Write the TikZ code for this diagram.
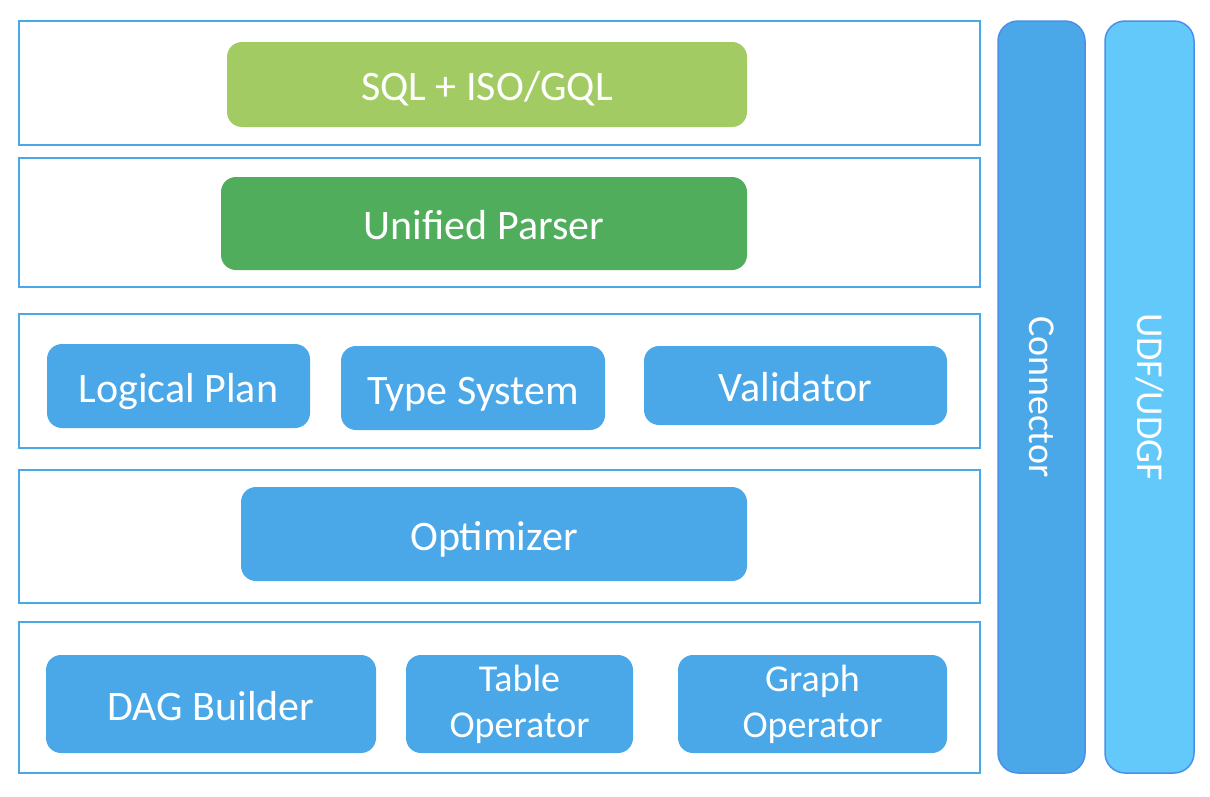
\documentclass[tikz,border=0pt]{standalone}
\usepackage{fontspec}
\setmainfont{Carlito}
\usetikzlibrary{positioning}

\definecolor{sqlgreen}{HTML}{A2CC63}
\definecolor{parsegreen}{HTML}{4FAD5B}
\definecolor{modblue}{HTML}{4AA8E8}
\definecolor{udfblue}{HTML}{63C9FB}
\definecolor{colline}{HTML}{4A8FEA}

\begin{document}
\begin{tikzpicture}[x=1pt, y=-1pt,
    every node/.style={font=\fontsize{42}{46}\selectfont, text=white, inner sep=0pt},
    layer/.style={draw=modblue, line width=2pt, minimum width=961pt},
    module/.style={rounded corners=15pt, fill=modblue, align=center},
    oneline/.style={text height=32pt, text depth=0pt},
    small/.style={font=\fontsize{38}{46}\selectfont},
    column/.style={draw=colline, line width=1.5pt, rounded corners=20pt, rotate=-90,
                   minimum width=752pt, small}]
    \useasboundingbox (0,0) rectangle (1210,796);
    % layers
    \node[layer, minimum height=124pt] (lang) at (499.5,83) {};
    \node[layer, minimum height=129pt] (parse) at (499.5,222.5) {};
    \node[layer, minimum height=134pt] (plan) at (499.5,381) {};
    \node[layer, minimum height=133pt] (opt) at (499.5,536.5) {};
    \node[layer, minimum height=151pt] (exec) at (499.5,697.5) {};
    % modules
    \node[module, oneline, fill=sqlgreen, minimum width=520pt, minimum height=85pt] (sql) at (487,84.5) {SQL + ISO/GQL};
    \node[module, oneline, fill=parsegreen, minimum width=526pt, minimum height=93pt] (parser) at (484,223.5) {Unified Parser};
    \node[module, oneline, minimum width=263pt, minimum height=84pt] (logical) at (178.5,386) {Logical Plan};
    \node[module, oneline, minimum width=264pt, minimum height=84pt] (types) at (473,388) {Type System};
    \node[module, oneline, minimum width=303pt, minimum height=79pt] (valid) at (795.5,385.5) {Validator};
    \node[module, oneline, minimum width=506pt, minimum height=94pt] (optimizer) at (494,534) {Optimizer};
    \node[module, oneline, minimum width=330pt, minimum height=98pt] (dag) at (211,704) {DAG Builder};
    \node[module, small, minimum width=227pt, minimum height=98pt] (tableop) at (519.5,704) {Table\\Operator};
    \node[module, small, minimum width=269pt, minimum height=98pt] (graphop) at (812.5,704) {Graph\\Operator};
    % side columns
    \node[column, fill=modblue, minimum height=87pt] (conn) at (1041.5,397) {Connector};
    \node[column, fill=udfblue, minimum height=89pt] (udf) at (1149.5,397) {UDF/UDGF};
\end{tikzpicture}
\end{document}
